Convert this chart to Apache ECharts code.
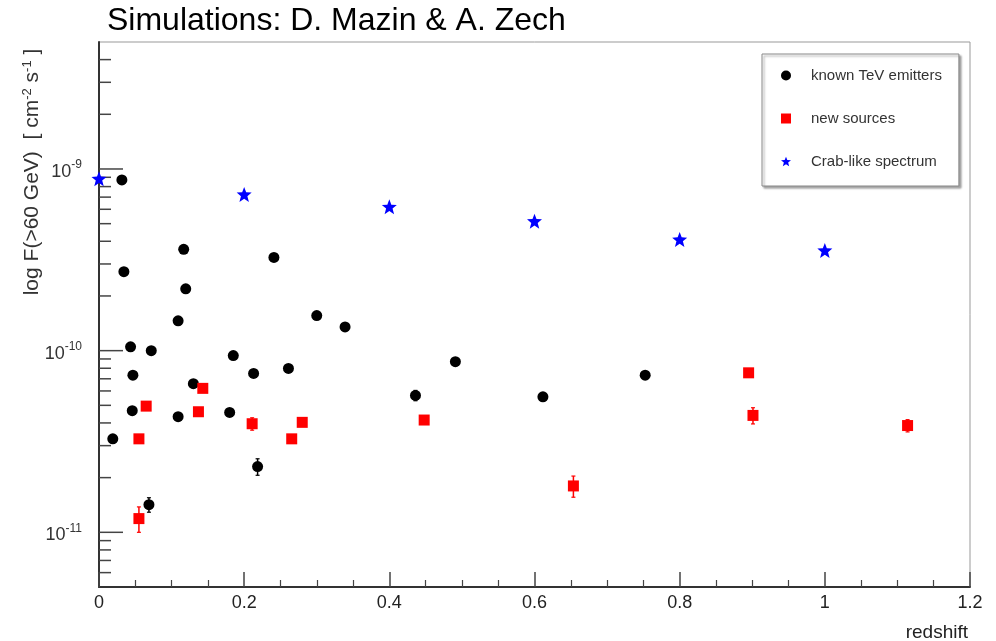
<!DOCTYPE html>
<html><head><meta charset="utf-8">
<script src="https://cdn.jsdelivr.net/npm/echarts@6/dist/echarts.min.js"></script>
<style>html,body{margin:0;padding:0;background:#fff}#c{width:996px;height:641px}</style>
</head><body><div id="c"></div>
<script>
// ---- data (redshift, integral flux F(>60 GeV) in cm^-2 s^-1) ----
const knownZ   = [0.0315, 0.0343, 0.0435, 0.0467, 0.0458, 0.019, 0.072, 0.0688, 0.109, 0.1167, 0.1195, 0.130, 0.109, 0.185, 0.180, 0.213, 0.2185, 0.241, 0.261, 0.300, 0.339, 0.436, 0.491, 0.6116, 0.7525];
const knownF   = [8.7e-10, 2.72e-10, 1.05e-10, 7.33e-11, 4.67e-11, 3.27e-11, 1.0e-10, 1.42e-11, 1.46e-10, 3.61e-10, 2.19e-10, 6.58e-11, 4.33e-11, 9.4e-11, 4.57e-11, 7.49e-11, 2.30e-11, 3.26e-10, 7.98e-11, 1.56e-10, 1.35e-10, 5.67e-11, 8.69e-11, 5.57e-11, 7.33e-11];
const knownErr = [0, 0, 0, 0, 0, 0, 0, 0.13e-11, 0, 0, 0, 0, 0, 0, 0, 0, 0.24e-11, 0, 0, 0, 0, 0.37e-11, 0, 0, 0.3e-11];

const newZ   = [0.055, 0.065, 0.055, 0.137, 0.143, 0.211, 0.2655, 0.280, 0.448, 0.6536, 0.895, 0.901, 1.114];
const newF   = [3.27e-11, 4.95e-11, 1.19e-11, 4.61e-11, 6.2e-11, 3.96e-11, 3.27e-11, 4.03e-11, 4.15e-11, 1.80e-11, 7.55e-11, 4.4e-11, 3.87e-11];
const newErr = [0, 0, 0.19e-11, 0, 0, 0.31e-11, 0, 0, 0.2e-11, 0.24e-11, 0, 0.45e-11, 0.3e-11];

const crabZ = [0, 0.2, 0.4, 0.6, 0.8, 1.0];
const crabF = [8.83e-10, 7.24e-10, 6.19e-10, 5.16e-10, 4.09e-10, 3.56e-10];

const seriesNames = ['known TeV emitters', 'new sources', 'Crab-like spectrum'];
const titleText = 'Simulations: D. Mazin & A. Zech';
const yAxisTitle = 'log F(>60 GeV)  [ cm{sup|-2} s{sup|-1} ]';
const xAxisTitle = 'redshift';

const yMajorTicks = [1e-11, 1e-10, 1e-9];
const yMinorTicks = [6e-12, 7e-12, 8e-12, 9e-12,
  2e-11, 3e-11, 4e-11, 5e-11, 6e-11, 7e-11, 8e-11, 9e-11,
  2e-10, 3e-10, 4e-10, 5e-10, 6e-10, 7e-10, 8e-10, 9e-10,
  2e-9, 3e-9, 4e-9];

// ---- chart ----
const FONT = '"Liberation Sans", Arial, Helvetica, sans-serif';
const STAR = 'path://M50,0 L63,33 L99,35 L71,57 L81,93 L50,73 L19,93 L29,57 L1,35 L37,33 Z';
const SQUARE = 'path://M0,0 L10,0 L10,10 L0,10 Z';

function zip(a, b, c) { return a.map((v, i) => c ? [v, b[i], c[i]] : [v, b[i]]); }

function errRender(color) {
  return function (params, api) {
    const x = api.value(0), y = api.value(1), e = api.value(2);
    if (!e) return null;
    const p1 = api.coord([x, y - e]);
    const p2 = api.coord([x, y + e]);
    const cw = 2;
    return {
      type: 'group',
      children: [
        { type: 'line', shape: { x1: p1[0], y1: p1[1], x2: p2[0], y2: p2[1] }, style: { stroke: color, lineWidth: 1.5 } },
        { type: 'line', shape: { x1: p1[0] - cw, y1: p1[1], x2: p1[0] + cw, y2: p1[1] }, style: { stroke: color, lineWidth: 1.2 } },
        { type: 'line', shape: { x1: p2[0] - cw, y1: p2[1], x2: p2[0] + cw, y2: p2[1] }, style: { stroke: color, lineWidth: 1.2 } }
      ]
    };
  };
}

function tickRender(len) {
  return function (params, api) {
    const p = api.coord([0, api.value(1)]);
    return { type: 'line', shape: { x1: p[0], y1: p[1], x2: p[0] + len, y2: p[1] }, style: { stroke: '#444', lineWidth: 1.5 } };
  };
}

const chart = echarts.init(document.getElementById('c'), null, { renderer: 'canvas' });
chart.setOption({
  animation: false,
  backgroundColor: '#fff',
  textStyle: { fontFamily: FONT },
  grid: { left: 99, right: 26, top: 42, bottom: 54, show: true, borderColor: '#999', borderWidth: 1, backgroundColor: 'transparent' },
  graphic: [
    { type: 'text', x: 107, y: 21, style: { text: titleText, font: '32px ' + FONT, fill: '#000', verticalAlign: 'middle', align: 'left' } },
    { type: 'text', x: 968, y: 633, style: { text: xAxisTitle, font: '19px ' + FONT, fill: '#222', verticalAlign: 'middle', align: 'right' } },
    { type: 'text', x: 32, y: 172, rotation: Math.PI / 2,
      style: { text: yAxisTitle, fontSize: 21, fontFamily: FONT, fill: '#333', align: 'center', verticalAlign: 'middle',
        rich: { sup: { fontSize: 13, fontFamily: FONT, fill: '#333', padding: [0, 0, 10, 0] } } } }
  ],
  legend: {
    data: seriesNames,
    orient: 'vertical',
    left: 762, top: 54,
    itemWidth: 10, itemHeight: 10, itemGap: 28,
    padding: [14, 17, 17, 19],
    backgroundColor: '#fff',
    borderColor: '#888', borderWidth: 1,
    shadowColor: 'rgba(0,0,0,0.35)', shadowOffsetX: 2, shadowOffsetY: 2, shadowBlur: 2,
    textStyle: { fontSize: 15, color: '#333', fontFamily: FONT, padding: [0, 0, 0, 15] }
  },
  xAxis: {
    type: 'value', min: 0, max: 1.2, interval: 0.2,
    axisLine: { lineStyle: { color: '#333', width: 2 } },
    axisTick: { inside: true, length: 15, lineStyle: { color: '#444', width: 1.5 } },
    minorTick: { show: true, splitNumber: 4, length: 7, lineStyle: { color: '#444', width: 1.2 } },
    axisLabel: { fontSize: 18, color: '#222', margin: 7, fontFamily: FONT },
    splitLine: { show: false }
  },
  yAxis: {
    type: 'log', logBase: 10, min: 5e-12, max: 5e-9,
    axisLine: { lineStyle: { color: '#333', width: 2 } },
    axisTick: { show: false },
    minorTick: { show: false },
    splitLine: { show: false },
    axisLabel: {
      margin: 17, color: '#333', fontSize: 18, fontFamily: FONT,
      showMinLabel: false, showMaxLabel: false,
      formatter: function (v) {
        const e = Math.log10(v);
        if (Math.abs(e - Math.round(e)) > 1e-6) return '';
        return '{b|10}{sup|' + Math.round(e) + '}';
      },
      rich: {
        b: { fontSize: 18, color: '#333', fontFamily: FONT, padding: [6, 0, 0, 0] },
        sup: { fontSize: 12, color: '#333', fontFamily: FONT, padding: [0, 0, 8, 0] }
      }
    }
  },
  series: [
    { type: 'custom', name: 'yMajor', renderItem: tickRender(24), data: yMajorTicks.map(v => [0, v]), silent: true, z: 1, clip: false },
    { type: 'custom', name: 'yMinor', renderItem: tickRender(12), data: yMinorTicks.map(v => [0, v]), silent: true, z: 1, clip: false },
    { type: 'custom', name: 'knownErr', renderItem: errRender('#000'), data: zip(knownZ, knownF, knownErr), silent: true, z: 2 },
    { type: 'custom', name: 'newErr', renderItem: errRender('#f00'), data: zip(newZ, newF, newErr), silent: true, z: 2 },
    { type: 'scatter', name: seriesNames[0], data: zip(knownZ, knownF), symbol: 'circle', symbolSize: 11, itemStyle: { color: '#000', opacity: 1 }, z: 3 },
    { type: 'scatter', name: seriesNames[1], data: zip(newZ, newF), symbol: SQUARE, symbolSize: 11, itemStyle: { color: '#f00', opacity: 1 }, z: 3 },
    { type: 'scatter', name: seriesNames[2], data: zip(crabZ, crabF), symbol: STAR, symbolSize: 15, itemStyle: { color: '#00f', opacity: 1 }, z: 4, clip: false }
  ]
});
</script>
</body></html>
